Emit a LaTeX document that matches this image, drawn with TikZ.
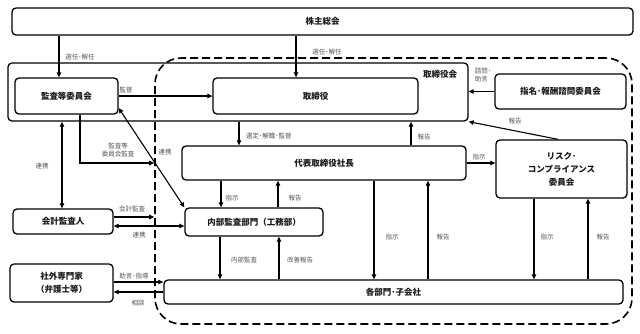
\documentclass[tikz,border=0pt]{standalone}
\usepackage{fontspec}
\setmainfont{Noto Sans CJK JP}
\usepackage{xcolor}
\definecolor{label-gray}{HTML}{555555}
\definecolor{jet}{HTML}{1A1A1A}
\usetikzlibrary{arrows.meta}

\begin{document}
\begin{tikzpicture}[x=1pt, y=-1pt,
    box/.style={draw, line width=1.3pt, rounded corners=4pt, inner sep=0pt, align=center,
      font=\fontsize{8.5}{13}\selectfont\bfseries, text=jet},
    lbl/.style={font=\fontsize{6.5}{8.5}\selectfont, text=label-gray, inner sep=0pt, align=center},
    arr/.style={line width=1.1pt, -{Triangle[length=5pt,width=4.5pt]}},
    dbl/.style={line width=1.1pt, {Triangle[length=5pt,width=4.5pt]}-{Triangle[length=5pt,width=4.5pt]}}]
    \useasboundingbox (0,0) rectangle (640,333);
    % boxes
    \node[draw, line width=1.6pt, dash pattern=on 8pt off 4pt, rounded corners=26pt,
      minimum width=477pt, minimum height=266pt] (grp) at (393.5,191) {};
    \node[box, minimum width=621pt, minimum height=27pt] (gm) at (322.5,21.5) {株主総会};
    \node[box, minimum width=460pt, minimum height=58pt] (board) at (238,92) {};
    \node[font=\fontsize{8.5}{10}\selectfont\bfseries, text=jet, inner sep=0pt] (boardlbl) at (440,74) {取締役会};
    \node[box, minimum width=103pt, minimum height=36pt] (kansa) at (66.5,96) {監査等委員会};
    \node[box, minimum width=205pt, minimum height=36pt] (tori) at (315.5,96) {取締役};
    \node[box, minimum width=131pt, minimum height=35pt] (shimei) at (560.5,91.5) {指名･報酬諮問委員会};
    \node[box, minimum width=284pt, minimum height=34pt] (ceo) at (324,163) {代表取締役社長};
    \node[box, minimum width=131pt, minimum height=58pt] (risk) at (561.5,169) {リスク･\\コンプライアンス\\委員会};
    \node[box, minimum width=138pt, minimum height=28pt] (audit) at (254,222) {内部監査部門（工務部）};
    \node[box, minimum width=100pt, minimum height=25pt] (kaikei) at (63,221.5) {会計監査人};
    \node[box, minimum width=103pt, minimum height=38pt] (bengo) at (61.5,283) {社外専門家\\（弁護士等）};
    \node[box, minimum width=459pt, minimum height=24pt] (dept) at (393.5,292) {各部門･子会社};
    % connectors
    \draw[arr] (gm.south -| 59,0) -- (kansa.north -| 59,0);
    \node[lbl] (l-senin1) at (80,57) {選任･解任};
    \draw[arr] (gm.south -| 296,0) -- (tori.north -| 296,0);
    \node[lbl] (l-senin2) at (327,52) {選任･解任};
    \draw[arr] (kansa.east) -- (tori.west);
    \node[lbl] (l-kantoku) at (126,90) {監督};
    \draw[arr] (board.south -| 239,0) -- (ceo.north -| 239,0);
    \node[lbl, anchor=west] (l-sentei) at (246,136) {選定･解職･監督};
    \draw[arr] (ceo.north -| 411,0) -- (board.south -| 411,0);
    \node[lbl] (l-houkoku1) at (424,137) {報告};
    \draw[arr] (shimei.west) -- (board.east |- shimei.west);
    \node[lbl, align=left] (l-shimon) at (483,75) {諮問･\\助言};
    \draw[arr] (risk.north -| 558,0) -- (board.south east);
    \node[lbl] (l-houkoku2) at (515,121) {報告};
    \draw[arr] (ceo.east) -- (risk.west |- ceo.east);
    \node[lbl] (l-shiji1) at (479,157) {指示};
    \draw[arr] (ceo.south -| 221,0) -- (audit.north -| 221,0);
    \node[lbl] (l-shiji2) at (232,198) {指示};
    \draw[arr] (audit.north -| 278,0) -- (ceo.south -| 278,0);
    \node[lbl] (l-houkoku3) at (295,198) {報告};
    \draw[arr] (audit.south -| 220,0) -- (dept.north -| 220,0);
    \node[lbl] (l-naibu) at (244,260) {内部監査};
    \draw[arr] (dept.north -| 279,0) -- (audit.south -| 279,0);
    \node[lbl] (l-kaizen) at (300,260) {改善報告};
    \draw[arr] (ceo.south -| 374,0) -- (dept.north -| 374,0);
    \node[lbl] (l-shiji3) at (392,237) {指示};
    \draw[arr] (dept.north -| 428,0) -- (ceo.south -| 428,0);
    \node[lbl] (l-houkoku4) at (443,237) {報告};
    \draw[arr] (risk.south -| 534,0) -- (dept.north -| 534,0);
    \node[lbl] (l-shiji4) at (547,237) {指示};
    \draw[arr] (dept.north -| 588,0) -- (risk.south -| 588,0);
    \node[lbl] (l-houkoku5) at (603,237) {報告};
    \draw[dbl] (board.south -| 62,0) -- (kaikei.north -| 62,0);
    \node[lbl] (l-renkei1) at (42,166) {連携};
    \draw[arr] (kansa.south -| 80,0) |- (grp.west |- 0,163);
    \node[lbl] (l-iinkai) at (118,150) {監査等\\委員会監査};
    \draw[dbl] (kansa.east |- 0,108) -- (audit.north west);
    \node[lbl] (l-renkei2) at (165,152) {連携};
    \draw[arr] (kaikei.east |- 0,217) -- (grp.west |- 0,217);
    \node[lbl] (l-kaikei) at (132,209) {会計監査};
    \draw[dbl] (kaikei.east |- 0,226) -- (audit.west |- 0,226);
    \node[lbl] (l-renkei3) at (139,235) {連携};
    \draw[arr] (bengo.east |- 0,282) -- (dept.west |- 0,282);
    \node[lbl] (l-jogen) at (134,276) {助言･指導};
    \draw[arr] (dept.west |- 0,292) -- (bengo.east |- 0,292);
    \node[lbl] (l-soudan) at (138,303) {相談};
\end{tikzpicture}
\end{document}
